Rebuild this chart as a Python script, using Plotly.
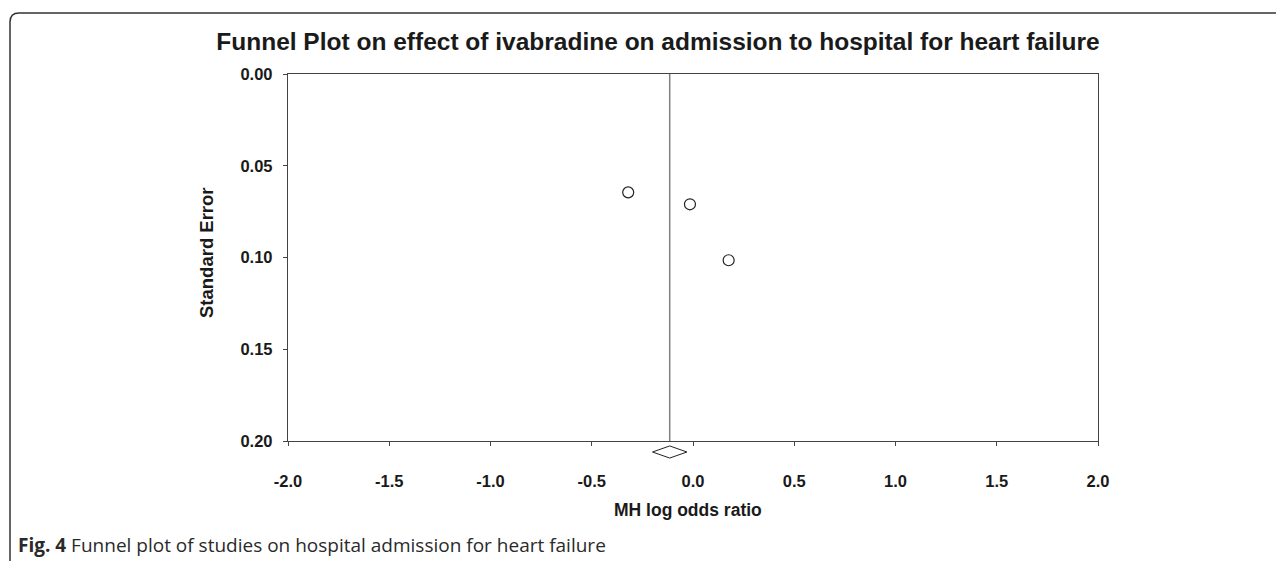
import plotly.graph_objects as go

# ---- data ----
study_log_or = [-0.32, -0.015, 0.176]
study_se = [0.0645, 0.071, 0.1015]
pooled_log_or = -0.115
pooled_ci_low = -0.20
pooled_ci_high = -0.03

x_tickvals = [-2.0, -1.5, -1.0, -0.5, 0.0, 0.5, 1.0, 1.5, 2.0]
x_ticktext = ["-2.0", "-1.5", "-1.0", "-0.5", "0.0", "0.5", "1.0", "1.5", "2.0"]
y_tickvals = [0.00, 0.05, 0.10, 0.15, 0.20]
y_ticktext = ["0.00", "0.05", "0.10", "0.15", "0.20"]

title_text = "Funnel Plot on effect of ivabradine on admission to hospital for heart failure"
x_title = "MH log odds ratio"
y_title = "Standard Error"
caption = "<b>Fig. 4</b> Funnel plot of studies on hospital admission for heart failure"

# ---- layout geometry (target screen pixels; page body adds an 8px offset) ----
OFF = 8
W, H = 1284 - OFF, 561 - OFF
L, R, T = 288 - OFF, 1098 - OFF, 74 - OFF
MAIN_BOTTOM = 441 - OFF
BOTTOM = 463 - OFF
d = (BOTTOM - MAIN_BOTTOM) / (BOTTOM - T)


def px(xs):
    return (xs - OFF - L) / (R - L)


def py(ys):
    return (BOTTOM - (ys - OFF)) / (BOTTOM - T)


FONT = "Liberation Sans, Arial, Helvetica, sans-serif"
AX_COLOR = "#444444"
TXT = "#1a1a1a"

fig = go.Figure()

# pooled estimate vertical line
fig.add_trace(go.Scatter(
    x=[pooled_log_or, pooled_log_or], y=[y_tickvals[0], y_tickvals[-1]],
    mode="lines", line=dict(color="#808080", width=1.5),
    xaxis="x", yaxis="y", hoverinfo="skip", showlegend=False))

# studies
fig.add_trace(go.Scatter(
    x=study_log_or, y=study_se, mode="markers",
    marker=dict(symbol="circle-open", size=11, color="#222222",
                line=dict(width=1.2, color="#222222")),
    xaxis="x", yaxis="y", showlegend=False))

# pooled diamond (in strip below the axis)
dh = 0.55
fig.add_trace(go.Scatter(
    x=[pooled_ci_low, pooled_log_or, pooled_ci_high, pooled_log_or, pooled_ci_low],
    y=[0, dh, 0, -dh, 0], mode="lines",
    line=dict(color="#222222", width=1),
    xaxis="x2", yaxis="y2", hoverinfo="skip", showlegend=False))

tickfont = dict(family=FONT, size=16.5, color=TXT, weight="bold")

fig.update_layout(
    width=W, height=H,
    margin=dict(l=L, r=W - R, t=T, b=H - BOTTOM, pad=0),
    paper_bgcolor="white", plot_bgcolor="white",
    showlegend=False,
    title=dict(text="<b>" + title_text + "</b>", xref="container", yref="container",
               x=(658 - OFF) / W, xanchor="center", y=1 - (41 - OFF) / H, yanchor="middle",
               font=dict(family=FONT, size=24.5, color=TXT)),
    xaxis=dict(domain=[0, 1], range=[-2, 2], anchor="y",
               showline=True, mirror=True, linecolor=AX_COLOR, linewidth=1.3,
               ticks="outside", ticklen=4, tickcolor=AX_COLOR,
               tickvals=x_tickvals, showticklabels=False,
               showgrid=False, zeroline=False),
    yaxis=dict(domain=[d, 1], range=[0.2, 0], anchor="x",
               showline=True, mirror=True, linecolor=AX_COLOR, linewidth=1.3,
               ticks="outside", ticklen=4, tickcolor=AX_COLOR,
               tickvals=y_tickvals, ticktext=y_ticktext, tickfont=tickfont,
               ticklabelstandoff=7,
               showgrid=False, zeroline=False),
    xaxis2=dict(domain=[0, 1], range=[-2, 2], anchor="y2", matches="x",
                showline=False, ticks="", tickvals=x_tickvals, ticktext=x_ticktext,
                tickfont=tickfont, ticklabelstandoff=6,
                showgrid=False, zeroline=False),
    yaxis2=dict(domain=[0, d], range=[-1, 1], anchor="x2", visible=False,
                showgrid=False, zeroline=False),
)

# axis titles
fig.add_annotation(text="<b>" + x_title + "</b>", xref="paper", yref="paper",
                   x=px(688), y=py(510), xanchor="center", yanchor="middle",
                   showarrow=False, font=dict(family=FONT, size=17.5, color=TXT))
fig.add_annotation(text="<b>" + y_title + "</b>", xref="paper", yref="paper",
                   x=px(206), y=py(253), xanchor="center", yanchor="middle",
                   textangle=-90, showarrow=False,
                   font=dict(family=FONT, size=18.5, color=TXT))

# caption
fig.add_annotation(text=caption, xref="paper", yref="paper",
                   x=px(16), y=py(545), xanchor="left", yanchor="middle",
                   showarrow=False, font=dict(family="Open Sans, Noto Sans, sans-serif",
                                              size=19, color="#2a2a2a"))

# outer frame (open on right/bottom, rounded top-left corner)
x0, y0, r = 10, 13, 9
frame = (f"M {px(x0)},{py(570)} L {px(x0)},{py(y0 + r)} "
         f"Q {px(x0)},{py(y0)} {px(x0 + r)},{py(y0)} L {px(1300)},{py(y0)}")
fig.add_shape(type="path", path=frame, xref="paper", yref="paper",
              line=dict(color="#333333", width=1.5))

fig.write_html("out.html")
